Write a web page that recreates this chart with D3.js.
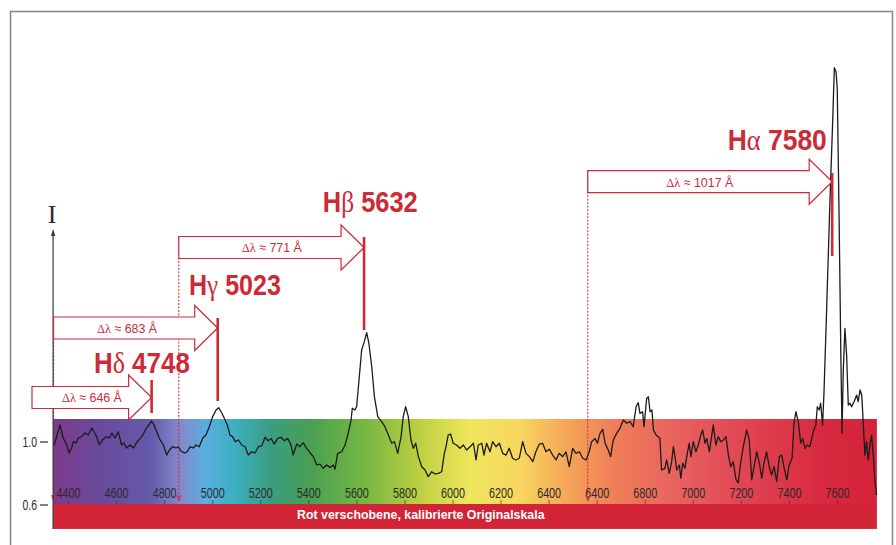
<!DOCTYPE html>
<html><head><meta charset="utf-8">
<script src="https://cdn.jsdelivr.net/npm/d3@7"></script>
<style>body{margin:0;background:#fff}svg{display:block}</style>
</head><body>
<svg id="c" width="896" height="545"></svg>
<script>
// ---------------- DATA ----------------
const wavelengths = [4342,4367,4380,4395,4405,4415,4422,4433,4443,4457,4471,4484,4499,4508,4519,4530,4544,4558,4572,4583,4596,4609,4623,4633,4644,4658,4672,4688,4707,4727,4748,4758,4769,4783,4797,4811,4822,4836,4849,4859,4870,4884,4896,4908,4921,4933,4946,4961,4974,4988,5002,5016,5027,5040,5050,5063,5074,5085,5096,5109,5123,5137,5150,
5164,5178,5192,5206,5220,5233,5245,5258,5272,5286,5300,5314,5328,5337,5352,5365,5379,5393,5407,5421,5435,5449,5462,5476,5490,5504,5511,5522,5539,5553,5566,5578,5583,5594,5601,5611,5622,5633,5643,5652,5664,5675,5689,5705,5719,5733,5747,5758,5772,5786,5795,5805,5816,5827,5837,5847,5858,5872,5886,5899,5913,5927,5941,5955,5966,
5973,5982,5992,6003,6017,6031,6045,6059,6073,6087,6098,6107,6122,6131,6142,6156,6167,6181,6195,6209,6223,6236,6250,6264,6278,6292,6306,6320,6334,6347,6361,6375,6389,6403,6417,6431,6444,6459,6472,6486,6500,6514,6528,6542,6556,6569,6579,6593,6603,6614,6625,6635,6648,6658,6669,6683,6697,6711,6725,6739,6752,6764,6773,6780,6791,6797,6808,6815,6822,6830,6836,6847,6856,6863,6870,6884,6891,6902,6912,6919,6926,6933,6944,6950,6958,6967,6977,6985,6992,7002,7013,7023,7033,7041,7051,7058,7069,7079,7085,7096,7106,7116,7127,7138,7148,7158,7168,7180,7189,7199,7210,7224,7235,7245,7255,7266,7277,7287,7296,7307,7318,7328,7338,7349,7360,7370,7379,7391,7401,7413,7421,7429,7439,7449,7457,7467,7476,7487,7495,7501,7512,7518,7526,7532,7540,7546,7557,7571,7582,7589,7596,7601,7609,7616,7621,7626,7633,7640,7647,7654,7661,7671,7682,7688,7696,7703,7709,7716,7723,7730,7737,7744,7751,7758,7765];

const intensities = [0.981,1.108,1.025,0.981,0.930,0.962,1.002,0.994,1.025,1.034,1.057,1.044,1.089,1.065,1.034,0.981,1.013,1.034,1.025,1.057,1.025,1.065,0.981,0.994,0.962,0.981,0.962,1.002,1.034,1.089,1.133,1.108,1.065,1.013,0.981,0.917,0.949,0.970,0.962,0.970,0.943,0.930,0.938,0.970,0.962,0.981,0.970,1.025,1.044,1.097,1.161,1.203,1.218,1.184,1.152,1.108,1.044,1.034,1.002,1.013,0.981,0.970,0.917,
0.938,0.930,0.970,0.975,1.030,1.008,1.023,0.987,1.023,1.030,1.008,1.023,0.981,0.917,0.987,0.970,0.996,0.960,0.932,0.907,0.854,0.860,0.833,0.854,0.839,0.854,0.827,0.928,0.938,0.981,1.055,1.140,1.214,1.203,1.224,1.394,1.584,1.637,1.694,1.627,1.478,1.288,1.161,1.129,1.097,1.044,0.992,1.002,0.928,1.034,1.161,1.224,1.161,1.013,0.960,0.992,0.907,0.843,0.822,0.780,0.811,0.797,0.801,0.811,0.928,
0.970,1.044,1.051,0.992,0.981,0.960,0.981,0.949,0.970,0.992,0.886,0.981,0.992,0.917,0.992,0.938,1.002,0.970,0.992,0.928,0.917,0.960,0.897,0.886,0.897,1.002,0.928,0.907,0.875,0.938,0.987,0.992,0.938,0.954,0.917,0.886,0.928,0.907,0.938,0.843,0.960,0.928,0.938,0.897,0.886,0.938,1.002,1.023,0.992,1.055,1.081,0.992,0.949,0.907,1.013,1.055,1.087,1.140,1.119,1.129,1.097,1.224,1.250,1.182,1.192,1.097,1.277,1.288,1.192,1.203,1.076,1.044,1.034,1.023,0.822,0.833,0.886,0.801,0.875,0.970,0.907,0.822,0.854,0.770,0.865,0.833,0.928,0.992,0.907,1.002,0.938,0.981,1.044,1.076,0.992,1.023,0.938,1.044,1.108,0.981,1.034,1.002,1.013,1.034,0.917,0.843,0.875,0.759,0.740,0.865,0.970,1.076,1.013,0.759,0.843,0.938,0.865,0.770,0.865,0.938,0.843,0.790,0.843,0.748,0.907,0.917,0.843,0.759,0.854,0.897,1.119,1.192,1.129,0.992,1.023,0.960,0.981,0.970,1.023,1.065,1.108,1.224,1.203,1.246,1.108,1.319,1.849,2.547,3.034,3.377,3.351,3.246,2.399,1.552,1.055,1.446,1.722,1.552,1.235,1.246,1.224,1.256,1.298,1.256,1.330,1.298,1.129,0.917,1.002,0.886,0.981,1.044,0.917,0.748,0.663];

const tickWaves  = [4400,4600,4800,5000,5200,5400,5600,5800,6000,6200,6400,6600,6800,7000,7200,7400,7600];
const tickLabels = ["4400","4600","4800","5000","5200","5400","5600","5800","6000","6200","6400","6400","6800","7000","7200","7400","7600"];
const yTickValues = [1.0, 0.6];
const yTickLabels = ["1.0", "0.6"];

const lineGreek = ["δ", "γ", "β", "α"];
const restWaves = [4102, 4340, 4861, 6563];
const observedWaves = [4748, 5023, 5632, 7580];

const axisTitle = "I";
const scaleCaption = "Rot verschobene, kalibrierte Originalskala";

// ---------------- LAYOUT ----------------
const RED = "#cc2a37";
const SANS = "'Liberation Sans', Arial, Helvetica, sans-serif";
const SERIF = "'Liberation Serif', 'Times New Roman', serif";
const svg = d3.select("#c");
const x = d3.scaleLinear().domain([4400, 7600]).range([68, 837]);
const y = d3.scaleLinear().domain([0.6, 1.0]).range([505, 442]);

const bandWaveLo = 4338, bandWaveHi = 7766;
const bandTopI = 1.146, bandBotI = 0.6, captionBotI = 0.448;

function squeeze(sel, ax, targetW) {
  const w = sel.node().getComputedTextLength();
  const f = targetW / w;
  sel.attr("transform", `translate(${ax},0) scale(${f},1) translate(${-ax},0)`);
}

// frame
svg.append("rect").attr("x", 10.5).attr("y", 11.5).attr("width", 882).attr("height", 560)
  .attr("fill", "none").attr("stroke", "#8a8a8a").attr("stroke-width", 1.6);

// gradient band
const stops = [[4338,"#7d3a8b"],[4533,"#6a4a9c"],[4741,"#6459aa"],[4866,"#8388cb"],[4970,"#5aaee0"],
  [5095,"#3cafc0"],[5241,"#3a9d82"],[5407,"#48a052"],[5657,"#7cb942"],[5865,"#bdd042"],[6073,"#efe65c"],
  [6281,"#f8d660"],[6468,"#f5a858"],[6655,"#f08058"],[6947,"#e8605e"],[7238,"#e04352"],[7529,"#d82a40"],[7766,"#d42339"]];
const defs = svg.append("defs");
const grad = defs.append("linearGradient").attr("id", "spec").attr("gradientUnits", "userSpaceOnUse")
  .attr("x1", x(bandWaveLo)).attr("x2", x(bandWaveHi)).attr("y1", 0).attr("y2", 0);
grad.selectAll("stop").data(stops).join("stop")
  .attr("offset", d => (d[0] - bandWaveLo) / (bandWaveHi - bandWaveLo))
  .attr("stop-color", d => d[1]);

svg.append("rect").attr("x", x(bandWaveLo)).attr("y", y(bandTopI))
  .attr("width", x(bandWaveHi) - x(bandWaveLo)).attr("height", y(bandBotI) - y(bandTopI))
  .attr("fill", "url(#spec)");
svg.append("rect").attr("x", x(bandWaveLo)).attr("y", y(bandBotI) - 1)
  .attr("width", x(bandWaveHi) - x(bandWaveLo)).attr("height", y(captionBotI) - y(bandBotI) + 1)
  .attr("fill", "#d32336");
const cap = svg.append("text").attr("x", 297).attr("y", 519).attr("fill", "#fff")
  .attr("font-family", SANS).attr("font-weight", "bold").attr("font-size", 13.5).text(scaleCaption);
squeeze(cap, 297, 248);

// x axis (ticks pointing up at bottom of colour band)
const xAxis = d3.axisBottom(x).tickValues(tickWaves).tickFormat((d, i) => tickLabels[i]).tickSize(-4);
const gx = svg.append("g").attr("transform", `translate(0,${y(bandBotI) - 1})`).call(xAxis);
gx.select(".domain").remove();
gx.selectAll(".tick line").attr("stroke", "#553040").attr("stroke-width", 1).attr("opacity", 0.7);
gx.selectAll(".tick text").attr("y", -6).attr("dy", 0).attr("fill", "#2b2b2b")
  .attr("font-family", SANS).attr("font-size", 15).attr("transform", "scale(0.72,1)");

// dashed rest-wavelength guides
const arrowYs = [397.5, 328, 247.5, 181.7];
const bodyH = 11, headH = 22.5, headL = 23;
restWaves.forEach((rw, i) => {
  const xr = x(rw);
  if (xr < x(bandWaveLo) - 3) return;
  svg.append("line").attr("x1", xr).attr("x2", xr).attr("y1", arrowYs[i] - bodyH).attr("y2", 500)
    .attr("stroke", RED).attr("stroke-width", 1).attr("stroke-dasharray", "2,1.5");
  svg.append("path").attr("d", `M${xr - 2},495 L${xr},501 L${xr + 2},495`)
    .attr("fill", "none").attr("stroke", RED).attr("stroke-width", 1);
});

// spectrum
const pts = wavelengths.map((w, i) => [w, intensities[i]]);
svg.append("path").datum(pts)
  .attr("d", d3.line().x(d => x(d[0])).y(d => y(d[1])))
  .attr("fill", "none").attr("stroke", "#1c1c1c").attr("stroke-width", 1.3).attr("stroke-linejoin", "round");

// y axis
const ax0 = x(bandWaveLo);
svg.append("line").attr("x1", ax0).attr("x2", ax0).attr("y1", y(captionBotI)).attr("y2", 233)
  .attr("stroke", "#3a3a3a").attr("stroke-width", 1.2);
svg.append("path").attr("d", `M${ax0},229 L${ax0 - 2.2},236 L${ax0 + 2.2},236 Z`).attr("fill", "#3a3a3a");
svg.append("text").attr("x", ax0 - 1).attr("y", 223).attr("text-anchor", "middle")
  .attr("font-family", SERIF).attr("font-size", 26).attr("fill", "#2b2b2b").text(axisTitle);
yTickValues.forEach((v, i) => {
  const t = svg.append("text").attr("x", 37).attr("y", y(v) + 5).attr("text-anchor", "end")
    .attr("font-family", SANS).attr("font-size", 15).attr("fill", "#2b2b2b").text(yTickLabels[i]);
  squeeze(t, 37, 14.5);
  svg.append("line").attr("x1", 40).attr("x2", 48).attr("y1", y(v)).attr("y2", y(v))
    .attr("stroke", "#2b2b2b").attr("stroke-width", 1.2);
});

// arrows, markers, labels
const markerSpan = [[380, 413], [318, 401], [237, 330], [173, 256]];
const nameDx = [-57.7, -28.7, -41.3, -104.4];
const nameBase = [373, 295, 212, 150];
const nameW = [96, 92, 95, 99];
const dlDx = [-59.7, -90.7, -92.3, -132.4];
const dlW = [60, 60, 60, 67];
const arrowMinX = 32;

observedWaves.forEach((ow, i) => {
  const x1 = x(ow), x0 = Math.max(x(restWaves[i]), arrowMinX), yc = arrowYs[i];
  const d = `M${x0},${yc - bodyH} L${x1 - headL},${yc - bodyH} L${x1 - headL},${yc - headH} L${x1},${yc} ` +
            `L${x1 - headL},${yc + headH} L${x1 - headL},${yc + bodyH} L${x0},${yc + bodyH} Z`;
  svg.append("path").attr("d", d).attr("fill", "#fff").attr("stroke", RED).attr("stroke-width", 1.2)
    .attr("stroke-linejoin", "miter");
  // shift label
  const cx = x1 + dlDx[i];
  const t = svg.append("text").attr("x", cx).attr("y", yc + 5).attr("text-anchor", "middle")
    .attr("font-family", SANS).attr("font-size", 13.5).attr("fill", RED);
  t.append("tspan").attr("font-family", SERIF).text("Δλ");
  t.append("tspan").text(" ≈ " + (ow - restWaves[i]) + " Å");
  squeeze(t, cx, dlW[i]);
  // marker
  svg.append("line").attr("x1", x1).attr("x2", x1).attr("y1", markerSpan[i][0]).attr("y2", markerSpan[i][1])
    .attr("stroke", RED).attr("stroke-width", 2.6);
  // line name
  const lx = x1 + nameDx[i];
  const n = svg.append("text").attr("x", lx).attr("y", nameBase[i]).attr("fill", RED)
    .attr("font-family", SANS).attr("font-size", 29).attr("font-weight", "bold");
  n.append("tspan").text("H");
  n.append("tspan").attr("font-family", SERIF).attr("font-weight", "normal").text(lineGreek[i]);
  n.append("tspan").text(" " + ow);
  squeeze(n, lx, nameW[i]);
});
</script>
</body></html>
